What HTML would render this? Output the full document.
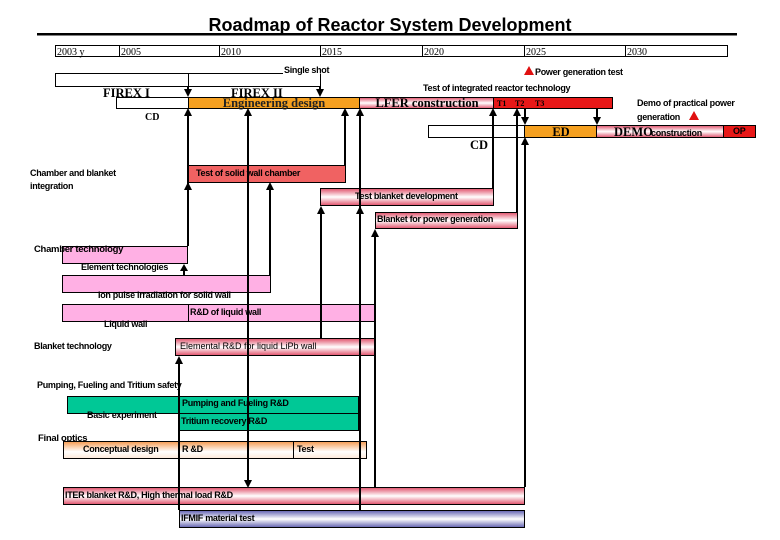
<!DOCTYPE html>
<html><head><meta charset="utf-8"><style>
html,body{margin:0;padding:0;background:#fff;}
svg{display:block;}
.s{font-family:"Liberation Sans",sans-serif;font-weight:bold;font-size:9px;letter-spacing:-0.3px;}
.r{font-family:"Liberation Serif",serif;font-weight:bold;font-size:12.5px;}
.y{font-family:"Liberation Serif",serif;font-size:10px;}
</style></head><body>
<svg width="780" height="540" viewBox="0 0 780 540" xmlns="http://www.w3.org/2000/svg">
<defs>
<linearGradient id="pk" x1="0" y1="0" x2="0" y2="1"><stop offset="0" stop-color="#e0506a"/><stop offset="0.5" stop-color="#fff"/><stop offset="1" stop-color="#e0506a"/></linearGradient>
<linearGradient id="og" x1="0" y1="0" x2="0" y2="1"><stop offset="0" stop-color="#f59a50"/><stop offset="0.6" stop-color="#fff"/><stop offset="1" stop-color="#fde8d8"/></linearGradient>
<linearGradient id="bl" x1="0" y1="0" x2="0" y2="1"><stop offset="0" stop-color="#6060b0"/><stop offset="0.5" stop-color="#fff"/><stop offset="1" stop-color="#6060b0"/></linearGradient>
</defs>
<text x="390" y="31" text-anchor="middle" font-family="Liberation Sans,sans-serif" font-weight="bold" font-size="18">Roadmap of Reactor System Development</text>
<rect x="37" y="33" width="700" height="2.5" fill="#000"/>
<g stroke="#000" stroke-width="1" fill="#fff">
<rect x="55.5" y="45.5" width="672" height="11"/>
<line x1="119.5" y1="45" x2="119.5" y2="57"/><line x1="219.5" y1="45" x2="219.5" y2="57"/><line x1="320.5" y1="45" x2="320.5" y2="57"/><line x1="422.5" y1="45" x2="422.5" y2="57"/><line x1="524.5" y1="45" x2="524.5" y2="57"/><line x1="625.5" y1="45" x2="625.5" y2="57"/>
</g>
<g class="y"><text x="57" y="55">2003 y</text><text x="121" y="55">2005</text><text x="221" y="55">2010</text><text x="322" y="55">2015</text><text x="424" y="55">2020</text><text x="526" y="55">2025</text><text x="627" y="55">2030</text></g>
<g stroke="#000" stroke-width="1" fill="none">
<polyline points="283,73.5 55.5,73.5 55.5,86.5 320.5,86.5 320.5,73.5"/>
<line x1="188.5" y1="73" x2="188.5" y2="87"/>
<rect x="116.5" y="97.5" width="72" height="11" fill="#fff"/>
<rect x="428.5" y="125.5" width="96" height="12" fill="#fff"/>
</g>
<text class="s" x="284" y="73">Single shot</text>
<text class="r" x="103" y="97">FIREX I</text>
<text class="r" x="231" y="97">FIREX II</text>
<rect x="188.5" y="97.5" width="171" height="11" fill="#f5a020" stroke="#000"/>
<text class="r" x="274" y="107" text-anchor="middle" fill="#222">Engineering design</text>
<rect x="359.5" y="97.5" width="134" height="11" fill="url(#pk)" stroke="#000"/>
<text class="r" x="427" y="107" text-anchor="middle">LFER construction</text>
<rect x="493.5" y="97.5" width="119" height="11" fill="#e81818" stroke="#000"/>
<g class="r" style="font-size:8px"><text x="497" y="106">T1</text><text x="515" y="106">T2</text><text x="535" y="106">T3</text></g>
<text class="r" x="145" y="120" style="font-size:10px">CD</text>
<rect x="524.5" y="125.5" width="72" height="12" fill="#f5a020" stroke="#000"/>
<text class="r" x="561" y="136" text-anchor="middle">ED</text>
<rect x="596.5" y="125.5" width="127" height="12" fill="url(#pk)" stroke="#000"/>
<text class="r" x="614" y="136">DEMO</text><text class="s" x="651" y="136">construction</text>
<rect x="723.5" y="125.5" width="32" height="12" fill="#e81818" stroke="#000"/>
<text class="s" x="733" y="134">OP</text>
<text class="r" x="470" y="149">CD</text>
<polygon points="529,66 524,75 534,75" fill="#e01010"/>
<text class="s" x="535" y="75">Power generation test</text>
<text class="s" x="423" y="91">Test of integrated reactor technology</text>
<text class="s" x="637" y="106">Demo of practical power</text>
<text class="s" x="637" y="120">generation</text>
<polygon points="694,111 689,120 699,120" fill="#e01010"/>
<text class="s" x="30" y="176">Chamber and blanket</text>
<text class="s" x="30" y="189">integration</text>
<rect x="188.5" y="165.5" width="157" height="17" fill="#f06262" stroke="#000"/>
<text class="s" x="196" y="176">Test of solid wall chamber</text>
<rect x="320.5" y="188.5" width="173" height="17" fill="url(#pk)" stroke="#000"/>
<text class="s" x="355" y="199">Test blanket development</text>
<rect x="375.5" y="212.5" width="142" height="16" fill="url(#pk)" stroke="#000"/>
<text class="s" x="377" y="222">Blanket for power generation</text>
<rect x="62.5" y="246.5" width="125" height="17" fill="#ffb0e4" stroke="#000"/>
<text class="s" x="34" y="252" style="font-size:9.5px">Chamber technology</text>
<text class="s" x="81" y="270">Element technologies</text>
<rect x="62.5" y="275.5" width="208" height="17" fill="#ffb0e4" stroke="#000"/>
<text class="s" x="98" y="298">Ion pulse irradiation for solid wall</text>
<rect x="62.5" y="304.5" width="313" height="17" fill="#ffb0e4" stroke="#000"/>
<line x1="188.5" y1="304" x2="188.5" y2="322" stroke="#000"/>
<text class="s" x="190" y="315">R&amp;D of liquid wall</text>
<text class="s" x="104" y="327">Liquid wall</text>
<text class="s" x="34" y="349">Blanket technology</text>
<rect x="175.5" y="338.5" width="200" height="17" fill="url(#pk)" stroke="#000"/>
<text x="180" y="349" font-family="Liberation Sans,sans-serif" font-size="9">Elemental R&amp;D for liquid LiPb wall</text>
<text class="s" x="37" y="388">Pumping, Fueling and Tritium safety</text>
<rect x="67.5" y="396.5" width="291" height="17" fill="#00c896" stroke="#000"/>
<rect x="179.5" y="413.5" width="179" height="17" fill="#00c896" stroke="#000"/>
<text class="s" x="182" y="406">Pumping and Fueling R&amp;D</text>
<text class="s" x="181" y="424">Tritium recovery R&amp;D</text>
<text class="s" x="87" y="418">Basic experiment</text>
<text class="s" x="38" y="441" style="font-size:9.5px">Final optics</text>
<rect x="63.5" y="441.5" width="303" height="17" fill="url(#og)" stroke="#000"/>
<line x1="293.5" y1="441" x2="293.5" y2="459" stroke="#000"/>
<text class="s" x="83" y="452">Conceptual design</text>
<text class="s" x="182" y="452">R &amp;D</text>
<text class="s" x="297" y="452">Test</text>
<rect x="63.5" y="487.5" width="461" height="17" fill="url(#pk)" stroke="#000"/>
<text class="s" x="65" y="498">ITER blanket R&amp;D, High thermal load R&amp;D</text>
<rect x="179.5" y="510.5" width="345" height="17" fill="url(#bl)" stroke="#000"/>
<text class="s" x="181" y="521">IFMIF material test</text>
<g stroke="#000" stroke-width="2">
<line x1="188" y1="87" x2="188" y2="92"/><line x1="320" y1="87" x2="320" y2="92"/>
<line x1="188" y1="112" x2="188" y2="246"/>
<line x1="248" y1="112" x2="248" y2="481"/>
<line x1="270" y1="186" x2="270" y2="275"/>
<line x1="345" y1="112" x2="345" y2="165"/>
<line x1="360" y1="112" x2="360" y2="510"/>
<line x1="321" y1="210" x2="321" y2="338"/>
<line x1="375" y1="233" x2="375" y2="487"/>
<line x1="493" y1="112" x2="493" y2="188"/>
<line x1="517" y1="112" x2="517" y2="212"/>
<line x1="525" y1="108" x2="525" y2="119"/>
<line x1="525" y1="141" x2="525" y2="487"/>
<line x1="597" y1="108" x2="597" y2="119"/>
<line x1="179" y1="362" x2="179" y2="510"/>
<line x1="184" y1="267" x2="184" y2="275"/>
</g>
<g fill="#000">
<polygon points="188,97 184,89 192,89"/><polygon points="320,97 316,89 324,89"/>
<polygon points="525,125 521,117 529,117"/><polygon points="597,125 593,117 601,117"/>
<polygon points="248,488 244,480 252,480"/>
<polygon points="188,108 184,116 192,116"/><polygon points="188,182 184,190 192,190"/>
<polygon points="248,108 244,116 252,116"/><polygon points="270,182 266,190 274,190"/>
<polygon points="345,108 341,116 349,116"/><polygon points="360,108 356,116 364,116"/>
<polygon points="360,206 356,214 364,214"/><polygon points="321,206 317,214 325,214"/>
<polygon points="375,229 371,237 379,237"/><polygon points="493,108 489,116 497,116"/>
<polygon points="517,108 513,116 521,116"/><polygon points="525,137 521,145 529,145"/>
<polygon points="179,356 175,364 183,364"/><polygon points="184,264 180,271 188,271"/>
</g>
</svg>
</body></html>
